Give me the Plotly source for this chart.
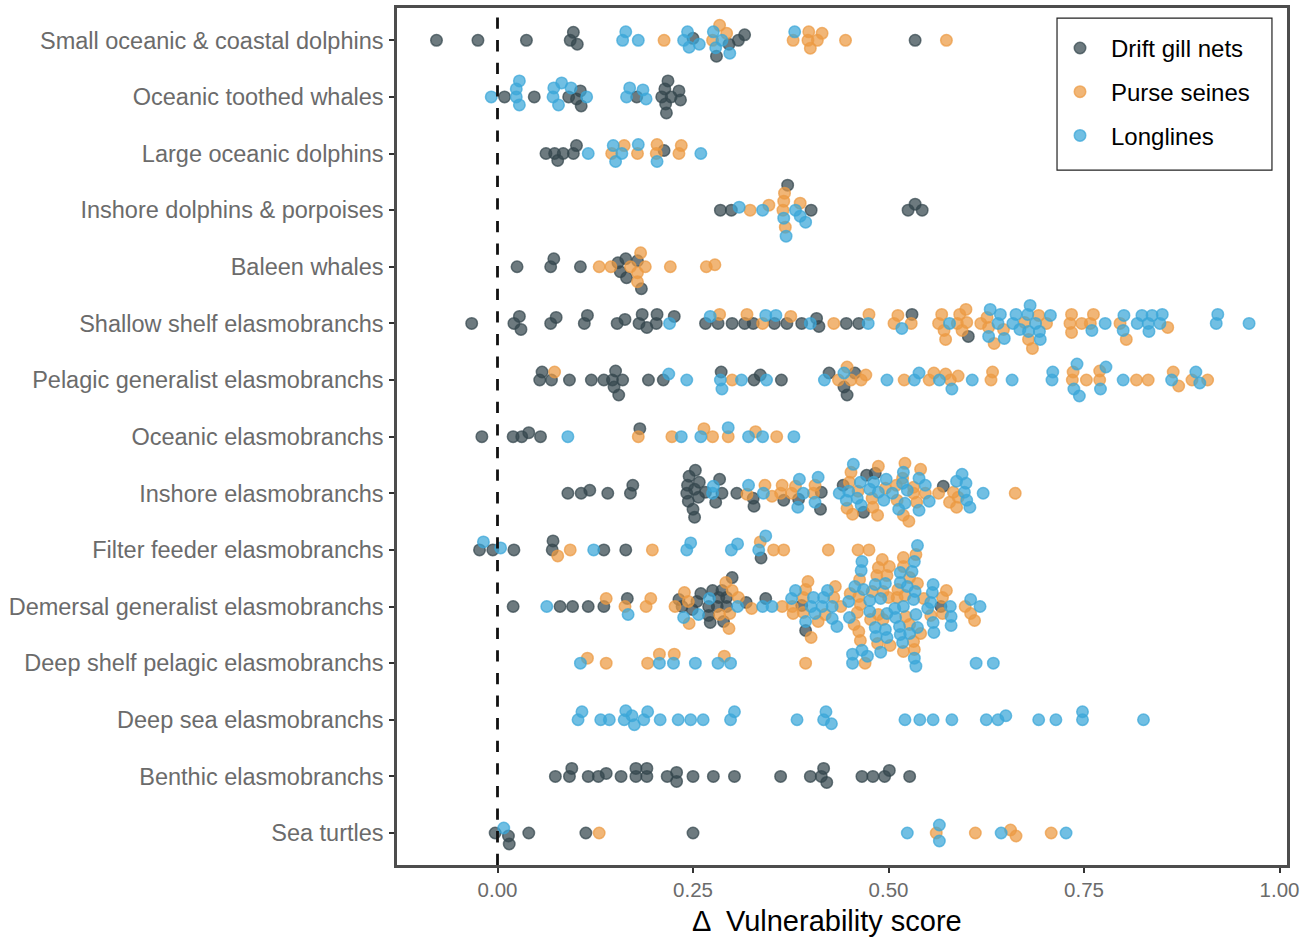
import plotly.graph_objects as go

categories = ["Small oceanic & coastal dolphins", "Oceanic toothed whales", "Large oceanic dolphins",
              "Inshore dolphins & porpoises", "Baleen whales", "Shallow shelf elasmobranchs",
              "Pelagic generalist elasmobranchs", "Oceanic elasmobranchs", "Inshore elasmobranchs",
              "Filter feeder elasmobranchs", "Demersal generalist elasmobranchs",
              "Deep shelf pelagic elasmobranchs", "Deep sea elasmobranchs", "Benthic elasmobranchs", "Sea turtles"]
x_ticks = [0, 0.25, 0.5, 0.75, 1]
x_tick_labels = ["0.00", "0.25", "0.50", "0.75", "1.00"]

# Each pair: (delta vulnerability score, swarm displacement within the row)
drift_01 = [(-0.078,0),(-0.025,0),(0.037,0),(0.097,8),(0.093,0),(0.102,-4),(0.250,2),(0.280,-16),(0.296,-4),(0.308,0),(0.316,5.5),(0.534,0)]
purse_01 = [(0.213,0),(0.284,15),(0.293,7),(0.275,0),(0.378,0),(0.398,8.5),(0.397,0),(0.409,0),(0.415,7),(0.400,-8),(0.445,0),(0.574,0)]
longl_01 = [(0.164,8.5),(0.160,0),(0.180,0),(0.243,8.5),(0.238,0),(0.245,-7),(0.258,-4),(0.276,8.5),(0.287,0),(0.279,-7.5),(0.297,-13),(0.380,8.5)]

drift_02 = [(0.009,0),(0.047,0),(0.091,0),(0.101,-2),(0.107,-9),(0.106,6),(0.178,0),(0.218,16),(0.214,8),(0.210,0),(0.222,0),(0.215,-7),(0.216,-16),(0.232,6),(0.234,-3)]
purse_02 = []
longl_02 = [(-0.008,0),(0.028,16),(0.024,8),(0.024,0),(0.028,-8),(0.082,14),(0.072,9),(0.071,0),(0.078,-8),(0.094,9),(0.114,0),(0.169,9),(0.165,0),(0.186,7),(0.190,-2)]

drift_03 = [(0.062,0),(0.073,0),(0.084,0),(0.077,-7),(0.097,0),(0.101,8),(0.213,3)]
purse_03 = [(0.146,0),(0.162,8),(0.179,0),(0.204,9),(0.203,0),(0.235,8),(0.232,0)]
longl_03 = [(0.116,0),(0.148,8),(0.159,0),(0.151,-8),(0.180,9),(0.204,-8),(0.260,0)]

drift_04 = [(0.285,0),(0.299,0),(0.371,25),(0.401,0),(0.525,0),(0.543,0),(0.534,6)]
purse_04 = [(0.323,0),(0.347,5),(0.367,17),(0.366,9),(0.365,0),(0.368,-17),(0.387,7)]
longl_04 = [(0.309,3),(0.339,0),(0.381,0),(0.387,-6),(0.394,-12),(0.366,-8),(0.369,-26)]

drift_05 = [(0.025,0),(0.068,0),(0.072,8),(0.106,0),(0.154,4),(0.164,8),(0.157,-5),(0.165,-11),(0.179,6),(0.184,-22)]
purse_05 = [(0.130,0),(0.145,0),(0.183,14),(0.170,0),(0.189,0),(0.179,-6),(0.179,-15),(0.221,0),(0.267,0),(0.278,2)]
longl_05 = []

drift_06 = [(-0.033,0),(0.021,0),(0.028,7),(0.030,-6),(0.068,0),(0.075,6),(0.111,0),(0.115,8),(0.153,0),(0.163,4),(0.181,0),(0.185,9),(0.191,-4),(0.203,0),(0.204,9),(0.226,7),
            (0.266,0),(0.282,0),(0.300,0),(0.316,0),(0.327,0),(0.354,0),(0.370,0),(0.389,0),(0.408,5),(0.411,-3),(0.446,0),(0.462,0),(0.530,9),(0.602,-13)]
purse_06 = [(0.284,9),(0.319,9),(0.339,0),(0.375,7),(0.430,0),(0.475,9),(0.512,8),(0.507,0),(0.529,0),(0.568,9),(0.564,0),(0.571,-7),(0.573,-16),(0.591,9),(0.599,14),(0.588,0),(0.600,1),(0.594,-7),
            (0.618,0),(0.626,6),(0.628,-4),(0.647,-6),(0.635,-20),(0.674,1),(0.692,8),(0.702,0),(0.679,-16),(0.684,-25),(0.734,9),(0.732,0),(0.734,-9),(0.747,0),(0.762,9),(0.758,0),(0.796,0),(0.804,-16),(0.857,-4)]
longl_06 = [(0.220,0),(0.272,7),(0.343,8),(0.356,8),(0.400,0),(0.474,0),(0.517,-5),(0.578,0),(0.630,14),(0.643,9),(0.640,0),(0.628,-13),(0.648,-15),(0.663,9),(0.659,0),(0.668,-6),(0.681,18),(0.678,9),(0.688,0),(0.679,-8),(0.693,-8),(0.694,-16),(0.707,8),
            (0.760,-7),(0.777,0),(0.801,8),(0.800,-7),(0.824,8),(0.818,0),(0.832,0),(0.837,8),(0.833,-8),(0.850,9),(0.847,0),(0.921,9),(0.919,0),(0.961,0)]

drift_07 = [(0.054,0),(0.057,8),(0.069,0),(0.092,0),(0.120,0),(0.136,0),(0.147,0),(0.160,0),(0.151,9),(0.149,-7),(0.155,-15),(0.193,0),(0.212,0),(0.286,8),(0.328,0),(0.336,5),(0.363,0),(0.424,7),(0.457,7),(0.443,-7),(0.447,-15)]
purse_07 = [(0.073,8),(0.300,0),(0.436,0),(0.447,13),(0.452,0),(0.465,0),(0.471,5),(0.520,0),(0.552,0),(0.558,7),(0.573,6),(0.579,0),(0.589,4),(0.631,0),(0.633,8),(0.735,0),(0.736,8),(0.753,0),(0.770,0),(0.770,9),(0.817,0),(0.832,0),(0.864,8),(0.871,-6),(0.888,0),(0.908,0)]
longl_07 = [(0.219,6),(0.242,0),(0.285,0),(0.287,-9),(0.312,0),(0.344,0),(0.418,0),(0.443,7),(0.498,0),(0.533,0),(0.539,7),(0.565,0),(0.581,-9),(0.607,0),(0.658,0),(0.709,0),(0.710,8),(0.741,16),(0.737,-9),(0.744,-16),(0.778,13),(0.771,-9),(0.800,0),(0.862,0),(0.893,8),(0.898,-3)]

drift_08 = [(-0.020,0),(0.020,0),(0.031,0),(0.040,4),(0.055,0),(0.182,8)]
purse_08 = [(0.180,0),(0.223,0),(0.264,8),(0.275,0),(0.295,0),(0.330,5),(0.357,0)]
longl_08 = [(0.090,0),(0.235,0),(0.260,0),(0.295,9),(0.321,0),(0.339,0),(0.379,0)]

drift_09 = [(0.090,0),(0.107,0),(0.118,3),(0.141,0),(0.170,0),(0.173,8),(0.253,23),(0.245,17),(0.243,8),(0.258,11),(0.242,0),(0.252,4),(0.266,1),(0.244,-8),(0.257,-4),(0.250,-16),(0.252,-24),(0.284,14),(0.287,0),(0.279,-9),
            (0.306,0),(0.327,-5),(0.328,-13),(0.366,-7),(0.385,-6),(0.414,1),(0.413,-16),(0.442,8),(0.468,-19),(0.472,18),(0.483,20),(0.570,7)]
purse_09 = [(0.319,-1),(0.342,8),(0.351,-3),(0.364,8),(0.362,0),(0.376,0),(0.381,7),(0.404,0),(0.406,8),(0.487,27),(0.452,21),(0.450,11),(0.461,2),(0.447,-15),(0.454,-21),(0.479,-5),(0.480,-14),(0.486,-22),(0.496,5),(0.510,8),(0.518,15),(0.521,30),(0.511,-7),(0.519,-22),(0.526,-28),
            (0.532,6),(0.532,0),(0.536,-9),(0.541,24),(0.547,0),(0.564,0),(0.578,-9),(0.583,1),(0.589,-4),(0.587,-14),(0.662,0)]
longl_09 = [(0.276,7),(0.275,0),(0.321,8),(0.340,0),(0.386,14),(0.391,0),(0.384,-14),(0.410,16),(0.406,-9),(0.455,29),(0.437,0),(0.449,2),(0.446,-7),(0.460,-5),(0.465,-12),(0.464,11),(0.481,11),(0.476,4),(0.487,1),(0.497,14),(0.494,-7),(0.505,0),(0.519,21),(0.518,10),(0.524,3),(0.521,-10),(0.513,-16),
            (0.539,-17),(0.539,15),(0.547,8),(0.552,-8),(0.594,19),(0.587,12),(0.599,10),(0.597,1),(0.600,-7),(0.604,-14),(0.621,0)]

drift_10 = [(-0.023,0),(-0.006,0),(0.021,0),(0.070,0),(0.071,9),(0.136,0),(0.164,0),(0.337,-8)]
purse_10 = [(0.077,-6),(0.093,0),(0.198,0),(0.336,8),(0.353,0),(0.366,0),(0.423,0),(0.461,0),(0.475,0)]
longl_10 = [(-0.018,8),(0.004,2),(0.123,0),(0.242,0),(0.247,7),(0.299,0),(0.307,6),(0.334,0),(0.343,14)]

drift_11 = [(0.020,0),(0.080,0),(0.096,0),(0.116,0),(0.136,0),(0.166,8),(0.232,7),(0.236,0),(0.249,-3),(0.255,5),(0.260,13),(0.275,16),(0.287,16),(0.300,29),(0.270,0),(0.283,9),(0.293,9),(0.281,0),(0.293,0),(0.270,-9),(0.272,-16),(0.289,-15),(0.318,4),(0.343,8),(0.389,1),(0.394,-24),(0.567,0)]
purse_11 = [(0.139,8),(0.163,0),(0.190,0),(0.196,8),(0.227,0),(0.239,14),(0.244,5),(0.245,-17),(0.284,-8),(0.297,-7),(0.296,-22),(0.292,24),(0.300,16),(0.308,9),(0.325,-2),(0.364,0),(0.378,-7),(0.377,0),
            (0.391,9),(0.394,17),(0.397,25),(0.391,-6),(0.410,-15),(0.419,-8),(0.401,-31),(0.430,9),(0.432,20),(0.439,0),(0.451,13),(0.463,27),(0.462,10),(0.464,2),(0.460,-6),(0.456,-18),(0.462,-25),(0.464,-34),(0.477,-13),
            (0.485,31),(0.487,39),(0.492,47),(0.501,40),(0.498,31),(0.479,15),(0.493,15),(0.487,-8),(0.493,-13),(0.486,-37),(0.502,-39),(0.500,9),(0.511,9),(0.512,17),(0.521,11),(0.522,-10),(0.527,-18),(0.519,49),(0.519,40),(0.527,29),(0.535,52),(0.537,23),(0.541,-27),(0.532,-35),(0.533,-43),(0.519,-45),
            (0.545,8),(0.554,-9),(0.569,9),(0.574,16),(0.569,-7),(0.598,0),(0.605,-7),(0.610,-14)]
longl_11 = [(0.063,0),(0.167,-8),(0.238,-11),(0.257,-8),(0.271,8),(0.307,0),(0.339,0),(0.351,0),(0.376,8),(0.381,16),(0.394,-15),(0.404,9),(0.401,0),(0.406,-7),(0.417,9),(0.415,0),(0.422,16),(0.428,0),(0.428,-12),(0.434,-20),(0.449,5),(0.450,-11),(0.457,20),(0.468,17),(0.466,45),(0.465,36),
            (0.476,6),(0.476,-5),(0.483,22),(0.490,8),(0.496,23),(0.483,-21),(0.484,-30),(0.496,-23),(0.498,-31),(0.498,-7),(0.508,-2),(0.509,-11),(0.515,34),(0.515,24),(0.514,-20),(0.515,-28),(0.518,-36),(0.519,0),(0.524,20),(0.530,35),(0.533,45),(0.537,61),(0.534,15),(0.532,7),(0.535,-8),(0.537,-21),(0.527,-27),
            (0.550,-2),(0.557,22),(0.556,14),(0.554,4),(0.557,-16),(0.558,-26),(0.579,0),(0.580,-10),(0.580,-19),(0.605,7),(0.617,0)]

drift_12 = []
purse_12 = [(0.115,5),(0.139,0),(0.192,0),(0.207,9),(0.226,9),(0.290,7),(0.394,0),(0.470,0)]
longl_12 = [(0.106,0),(0.207,0),(0.225,0),(0.253,0),(0.282,0),(0.298,0),(0.466,13),(0.473,7),(0.454,9),(0.454,0),(0.490,11),(0.533,5),(0.535,-3),(0.612,0),(0.634,0)]

drift_13 = []
purse_13 = []
longl_13 = [(0.103,0),(0.108,8),(0.132,0),(0.143,0),(0.162,0),(0.164,9),(0.172,4),(0.175,-5),(0.187,0),(0.192,8),(0.208,0),(0.231,0),(0.247,0),(0.263,0),(0.298,0),(0.303,8),(0.383,0),(0.417,0),(0.420,8),(0.427,-4),
            (0.521,0),(0.540,0),(0.557,0),(0.581,0),(0.625,0),(0.640,0),(0.650,4),(0.692,0),(0.714,0),(0.748,0),(0.748,8),(0.826,0)]

drift_14 = [(0.074,0),(0.092,0),(0.095,8),(0.116,0),(0.129,0),(0.139,3),(0.158,0),(0.177,0),(0.177,8),(0.191,0),(0.191,8),(0.217,0),(0.229,4),(0.229,-5),(0.250,0),(0.276,0),(0.303,0),(0.362,0),(0.400,0),(0.414,0),(0.417,8),(0.421,-6),(0.466,0),(0.480,0),(0.495,0),(0.501,6),(0.527,0)]
purse_14 = []
longl_14 = []

drift_15 = [(-0.003,0),(0.014,-3),(0.015,-11),(0.040,0),(0.113,0),(0.250,0)]
purse_15 = [(0.130,0),(0.561,0),(0.611,0),(0.656,3),(0.663,-3),(0.708,0)]
longl_15 = [(0.008,5),(0.524,0),(0.565,8),(0.565,-8),(0.644,0),(0.727,0)]

drift_rows = [drift_01,drift_02,drift_03,drift_04,drift_05,drift_06,drift_07,drift_08,drift_09,drift_10,drift_11,drift_12,drift_13,drift_14,drift_15]
purse_rows = [purse_01,purse_02,purse_03,purse_04,purse_05,purse_06,purse_07,purse_08,purse_09,purse_10,purse_11,purse_12,purse_13,purse_14,purse_15]
longl_rows = [longl_01,longl_02,longl_03,longl_04,longl_05,longl_06,longl_07,longl_08,longl_09,longl_10,longl_11,longl_12,longl_13,longl_14,longl_15]

ROW_UNITS = 56.65  # displacement units per row

def flatten(rows):
    xs, ys = [], []
    for i, row in enumerate(rows):
        for val, off in row:
            xs.append(val)
            ys.append(i - off / ROW_UNITS)
    return xs, ys

series = [("Drift gill nets", drift_rows, "52,71,77"),
          ("Purse seines", purse_rows, "236,154,66"),
          ("Longlines", longl_rows, "58,166,216")]

fig = go.Figure()
for name, rows, rgb in series:
    xs, ys = flatten(rows)
    fig.add_trace(go.Scatter(
        x=xs, y=ys, mode="markers", name=name, legendgroup=name,
        marker=dict(size=11.5, color=f"rgba({rgb},0.72)", line=dict(width=1.5, color=f"rgba({rgb},0.72)")),
    ))

fig.add_shape(type="line", xref="x", yref="paper", x0=0, x1=0, y0=0, y1=1, layer="above",
              line=dict(color="#111111", width=2.8, dash="11.3px,11.3px"))
# legend frame
fig.add_shape(type="rect", xref="paper", yref="paper", x0=0.7416, x1=0.9831, y0=0.8108, y1=0.9883, layer="above",
              line=dict(color="#222222", width=1.2), fillcolor="rgba(255,255,255,0)")

fig.add_annotation(text="Δ  Vulnerability score", xref="paper", yref="paper", x=0.4835, y=-0.0653,
                   xanchor="center", yanchor="middle", showarrow=False, font=dict(size=29, color="#000000"))

fig.update_layout(
    width=1304, height=940,
    margin=dict(l=397, r=17, t=8, b=75, autoexpand=False),
    paper_bgcolor="white", plot_bgcolor="white",
    font=dict(family="Liberation Sans", color="#000000"),
    legend=dict(x=0.7326, y=0.9791, xanchor="left", yanchor="top", bgcolor="rgba(255,255,255,0)",
                borderwidth=0, font=dict(size=24, family="Liberation Sans", color="#000000"),
                tracegroupgap=9.5, traceorder="grouped", itemwidth=52),
    xaxis=dict(range=[-0.1285, 1.0095], tickvals=x_ticks, ticktext=x_tick_labels, ticks="outside", ticklen=5, tickwidth=1.5,
               tickcolor="#333333", tickfont=dict(size=20.5, color="#6b6b6b"), showgrid=False, zeroline=False,
               showline=True, mirror=True, linecolor="#4d4d4d", linewidth=2.5),
    yaxis=dict(range=[14.565, -0.57], tickvals=list(range(15)), ticktext=categories, ticks="outside", ticklen=5, tickwidth=1.5,
               tickcolor="#333333", tickfont=dict(size=23.5, color="#6b6b6b"), showgrid=False, zeroline=False,
               ticklabelstandoff=1,
               showline=True, mirror=True, linecolor="#4d4d4d", linewidth=2.5),
)

fig.write_html("out.html", post_script="document.body.style.margin='0';", config={"displayModeBar": False})
